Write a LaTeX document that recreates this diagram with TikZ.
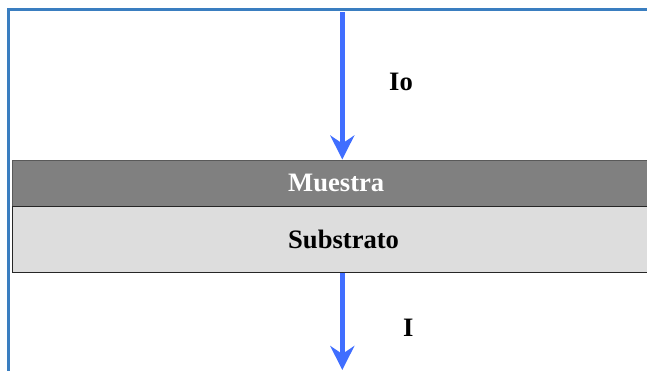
\documentclass[tikz,border=0pt]{standalone}
\usepackage{fontspec}
\setmainfont{Liberation Serif}
\usetikzlibrary{arrows.meta}
\definecolor{framecol}{RGB}{58,126,192}
\definecolor{arrowcol}{RGB}{64,110,255}
\definecolor{muestracol}{RGB}{128,128,128}
\definecolor{substratocol}{RGB}{221,221,221}
\tikzset{
  beam/.style={draw=arrowcol, line width=4.5pt, -{Stealth[length=24pt,width=24pt,inset=8pt]}},
  lbl/.style={font=\fontsize{26.6}{30}\selectfont\bfseries, inner sep=0pt, anchor=base west},
  layer/.style={draw=#1, line width=1pt, inner sep=0pt, anchor=north west}
}
\begin{document}
\begin{tikzpicture}[x=1pt,y=-1pt]
\useasboundingbox (0,0) rectangle (647,371);
% frame
\draw[framecol, line width=3pt] (8.5,372) -- (8.5,9.5) -- (700,9.5);
% layers
\node[layer={black!65}, fill=muestracol, minimum width=700pt, minimum height=46pt] (muestra) at (12,160) {};
\node[layer={black!85}, fill=substratocol, minimum width=700pt, minimum height=66pt] (substrato) at (12,206) {};
\draw[black!85, line width=1pt] (muestra.south west) -- (muestra.south east);
\node[lbl, text=white] (tm) at (288,191.7) {Muestra};
\node[lbl, text=black] (ts) at (288,248) {Substrato};
% arrows
\coordinate (a1) at (342.3,12.5);
\coordinate (a2) at (342.3,159.5);
\coordinate (b1) at (342.3,272.5);
\coordinate (b2) at (342.3,370);
\draw[beam] (a1) -- (a2);
\draw[beam] (b1) -- (b2);
\node[lbl] (io) at (389,90.7) {Io};
\node[lbl] (i) at (403,336) {I};
\end{tikzpicture}
\end{document}
